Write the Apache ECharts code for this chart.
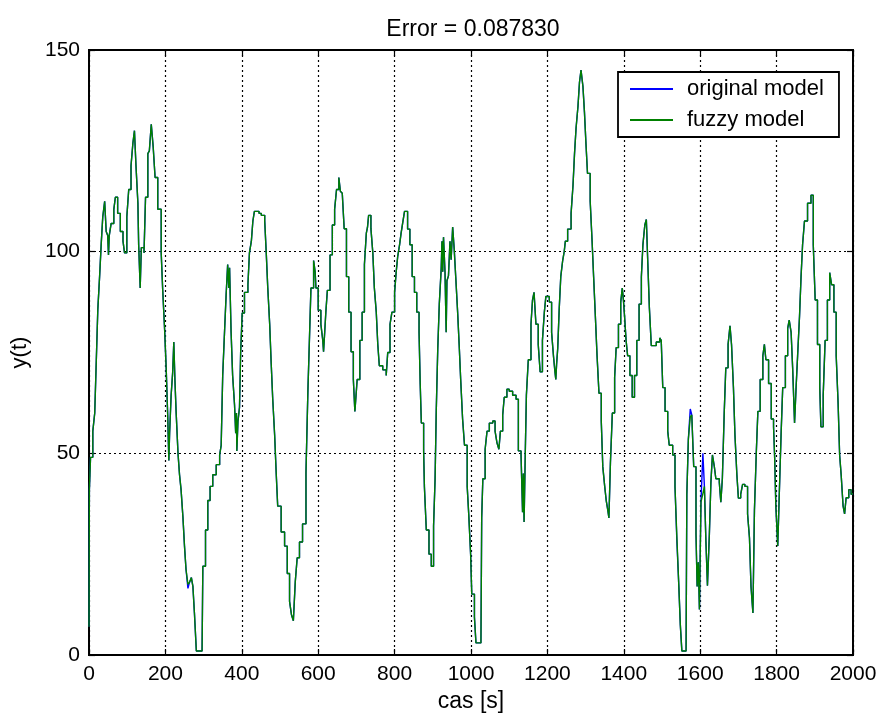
<!DOCTYPE html>
<html>
<head>
<meta charset="utf-8">
<script src="https://cdn.jsdelivr.net/npm/echarts@6/dist/echarts.min.js"></script>
<style>html,body{margin:0;padding:0;background:#fff}#c{width:880px;height:715px}</style>
</head>
<body>
<div id="c"></div>
<script>
var titleText = 'Error = 0.087830';
var seriesNames = ['original model', 'fuzzy model'];
var xTicks = [0, 200, 400, 600, 800, 1000, 1200, 1400, 1600, 1800, 2000];
var yTicks = [0, 50, 100, 150];

var times = [0,1,4,10,15,19,23,28,32,36,41,45,49,51,53,58,65,69,75,82,89,93,99,104,110,115,119,123,128,130,134,137,144,148,154,158,163,168,173,180,189,193,198,202,206,209,211,215,219,222,225,228,233,237,241,
246,250,254,259,263,268,272,276,281,296,298,305,311,317,324,333,342,346,350,355,359,363,366,368,372,376,381,384,386,387,390,394,397,401,407,416,420,425,429,433,445,451,460,464,468,473,477,481,486,490,494,503,512,519,525,530,535,540,545,551,559,568,573,577,581,588,592,594,600,607,612,614,617,620,624,631,637,643,648,654,658,663,668,674,680,686,692,696,698,702,709,715,721,726,729,732,738,743,747,752,756,760,769,778,782,788,793,800,804,808,813,817,821,826,834,840,846,852,858,864,867,870,876,878,883,890,896,902,906,909,913,917,922,924,926,928,932,935,937,941,945,948,952,956,960,965,969,973,978,983,990,994,999,1002,1009,1013,1026,1028,
1031,1037,1042,1048,1057,1063,1068,1073,1077,1083,1087,1094,1100,1109,1118,1124,1131,1135,1137,1139,1142,1145,1150,1157,1161,1165,1170,1176,1181,1187,1192,1196,1205,1211,1216,1220,1222,1224,1227,1231,1235,1240,1244,1247,1253,1262,1267,1271,1275,1280,1284,1288,1293,1297,1301,1305,1312,1317,1321,1326,1330,1335,1341,1345,1350,1354,1358,1361,1365,1370,1376,1380,1386,1392,1396,1399,1402,1406,1410,1416,1422,1428,1434,1440,1446,1450,1455,1459,1463,1467,1472,1485,1494,1498,1502,1508,1515,1519,1528,1534,1539,1544,1548,1552,1563,1565,1569,1574,1578,1583,1589,1592,1595,1598,1602,1607,1611,1615,1619,1624,1628,1632,1637,1641,1650,1654,1658,1663,1667,1673,1678,1682,1687,1691,1696,1700,1706,1711,1717,1724,1729,1733,1738,1742,1747,1751,1757,1764,1768,1772,1779,1786,1792,1795,1798,1803,1807,1812,1816,1823,1829,1833,1838,1842,1847,1851,1855,1860,1864,1868,1873,1881,1890,1896,1901,1907,1913,1916,1922,1927,1933,1939,1944,1950,1956,1961,1965,1969,1974,1978,1982,1989,1995,2000];

var original = [7,41,49,55.5,60,72.7,85.5,94.3,102,108.6,112.5,105,104,99.2,104,107,110.5,113.5,109.5,105,102.6,99.7,108.6,115.4,121.3,127,130,121.3,112,101.7,91,101,99.7,113.5,124.3,125,131.6,126,118.4,110.5,99.7,90.4,80.6,71.2,59.5,48.2,55,64.4,70,77.6,68,60.4,50,44.7,41,
34,27,21.2,16.5,18,19.2,17,10.4,1,1,22,31,38.3,41.8,44.7,47.2,49.6,52,69.3,80.6,89.4,96.8,91,96,80,69.3,62,55,60,50.6,58,61.4,75,84.8,89.9,91.8,99.7,102.6,107.6,110,109.5,109,107.6,99.7,91,82,72.2,63.4,54.5,45.2,36.9,30.5,27,20.2,13.3,10,8.5,18.2,24.1,28,32.5,45.2,65.4,78.1,91,97.8,95,91,85.5,82,78,75.2,80,85,90.4,99.2,106.6,110.5,115.4,118.4,115,114.5,105.7,93.8,85,75.2,68.3,60.4,63,68.3,78,85,96.8,104.6,106,109,105.7,99.7,91,85,77,71.7,70.7,69.3,75,82,85,89.9,94.8,98.7,101.7,104.6,107,110,105.6,101.7,93.8,89.9,85,80,67.3,57.5,50.6,41.8,31,25,22,32,43.7,60.4,76,87,95.8,102.6,95,103.6,94.8,80,92.8,94,102.6,98,106.1,100.7,93.8,85,77,68.3,58.5,52,41.8,35,25,15.1,9.4,3,3,34,
43.7,51,55.5,57.5,58,55.5,52.6,51,55.5,59.5,63.9,65.9,65.4,64.4,63.4,50.6,49.6,35.4,45,33,49.6,64.4,73.2,82,88,89.9,82,77,70.2,78,85,88.9,87.5,80,74,70,68.3,72,76,86,93.8,97.8,100,102.6,105.6,109.5,116.4,124.3,130.6,136,142,145,141,134.6,126.7,119.4,112.5,102.6,93.8,83,74.2,64.9,58,46.7,41.8,38.3,36,34,47.7,60,68.8,76.2,82,87.5,91,88,84,78,74.2,69.3,63.9,69.3,78,87,93.8,101.7,106.6,108,96.8,86,76.7,77.6,78.6,78,66.3,60.4,55.5,52,49.6,41.8,28,17.2,7.4,1,1,39.8,53.5,61,59.5,46.7,30,17,23,11.3,37.9,50,41.8,28,17.2,30,42.8,49.6,46.7,43.7,42.8,37.9,43.7,60.4,71.2,77,81.6,77,66.3,54.5,44.7,38.9,39.8,42.3,41.8,35,29,17,10.4,35.9,50.6,60.4,68.3,74.2,77,73.2,67.3,58.5,56.6,48.7,37,27,39.8,55.5,66.3,74.2,81,83,80,71.2,57.5,66.3,74.2,84,93.8,101.7,107.6,112,114,101.7,88,77,66.3,56.6,64.4,78,88,94.8,91.8,85,74.2,62.4,49.6,44.7,37,35,39,41,39.8,40];

var fuzzy = [7,41,49,55.5,60,72.7,85.5,94.3,102,108.6,112.5,105,104,99.2,104,107,110.5,113.5,109.5,105,102.6,99.7,108.6,115.4,121.3,127,130,121.3,112,101.7,91,101,99.7,113.5,124.3,125,131.6,126,118.4,110.5,99.7,90.4,80.6,71.2,59.5,48.2,55,64.4,70,77.6,68,60.4,50,44.7,41,
34,27,21.2,17.5,18,19.2,17,10.4,1,1,22,31,38.3,41.8,44.7,47.2,49.6,52,69.3,80.6,89.4,96.8,91,96,80,69.3,62,55,60,50.6,58,61.4,75,84.8,89.9,91.8,99.7,102.6,107.6,110,109.5,109,107.6,99.7,91,82,72.2,63.4,54.5,45.2,36.9,30.5,27,20.2,13.3,10,8.5,18.2,24.1,28,32.5,45.2,65.4,78.1,91,97.8,95,91,85.5,82,78,75.2,80,85,90.4,99.2,106.6,110.5,115.4,118.4,115,114.5,105.7,93.8,85,75.2,68.3,60.4,63,68.3,78,85,96.8,104.6,106,109,105.7,99.7,91,85,77,71.7,70.7,69.3,75,82,85,89.9,94.8,98.7,101.7,104.6,107,110,105.6,101.7,93.8,89.9,85,80,67.3,57.5,50.6,41.8,31,25,22,32,43.7,60.4,76,87,95.8,102.6,95,103.6,94.8,80,92.8,94,102.6,98,106.1,100.7,93.8,85,77,68.3,58.5,52,41.8,35,25,15.1,9.4,3,3,34,
43.7,51,55.5,57.5,58,55.5,52.6,51,55.5,59.5,63.9,65.9,65.4,64.4,63.4,50.6,49.6,35.4,45,33,49.6,64.4,73.2,82,88,89.9,82,77,70.2,78,85,88.9,87.5,80,74,70,68.3,72,76,86,93.8,97.8,100,102.6,105.6,109.5,116.4,124.3,130.6,136,142,145,141,134.6,126.7,119.4,112.5,102.6,93.8,83,74.2,64.9,58,46.7,41.8,38.3,36,34,47.7,60,68.8,76.2,82,87.5,91,88,84,78,74.2,69.3,63.9,69.3,78,87,93.8,101.7,106.6,108,96.8,86,76.7,77.6,78.6,78,66.3,60.4,55.5,52,49.6,41.8,29,17.2,7.4,1,1,39.8,53.5,59,59.5,46.7,30,17,23,11.3,37.9,40,41.8,28,17.2,30,42.8,49.6,46.7,43.7,42.8,37.9,43.7,60.4,71.2,77,81.6,77,66.3,54.5,44.7,38.9,39.8,42.3,41.8,35,29,17,10.4,35.9,50.6,60.4,68.3,74.2,77,73.2,67.3,58.5,56.6,48.7,37,27,39.8,55.5,66.3,74.2,81,83,80,71.2,57.5,66.3,74.2,84,93.8,101.7,107.6,112,114,101.7,88,77,66.3,56.6,64.4,78,88,94.8,91.8,85,74.2,62.4,49.6,44.7,37,35,39,41,39.8,40];

function pairs(vals) { return times.map(function (t, i) { return [t, vals[i]]; }); }

var font = "'Liberation Sans', Arial, sans-serif";
var chart = echarts.init(document.getElementById('c'), null, { renderer: 'canvas' });
var dotted = { color: '#000', width: 1.2, type: [2, 3] };
var frameAxis = { show: true, onZero: false, lineStyle: { color: '#000', width: 1.8 } };
var tickIn = { show: true, inside: true, length: 6, lineStyle: { color: '#000', width: 1.2 } };
chart.setOption({
  animation: false,
  backgroundColor: '#fff',
  textStyle: { fontFamily: font },
  title: {
    text: titleText, left: 468, top: 13, textAlign: 'center',
    textStyle: { fontFamily: font, fontSize: 23, fontWeight: 'normal', color: '#000' }
  },
  legend: {
    orient: 'vertical', left: 618, top: 72,
    padding: [6, 15, 6, 12],
    itemGap: 9, itemWidth: 43, itemHeight: 2,
    icon: 'rect',
    backgroundColor: '#fff', borderColor: '#000', borderWidth: 1.8,
    textStyle: { fontFamily: font, fontSize: 22, color: '#000', padding: [0, 0, 0, 9] },
    data: seriesNames
  },
  grid: { left: 89, right: 27, top: 50, bottom: 60, show: true, borderColor: '#000', borderWidth: 1.8,
    containLabel: false, outerBoundsMode: 'none' },
  xAxis: [{
    type: 'value', min: 0, max: 2000, interval: 200,
    name: 'cas [s]', nameLocation: 'middle', nameGap: 25,
    nameTextStyle: { fontFamily: font, fontSize: 23, color: '#000' },
    axisLine: frameAxis, axisTick: tickIn,
    axisLabel: { fontFamily: font, fontSize: 21, color: '#000', margin: 9,
      formatter: function (v) { return xTicks.indexOf(v) >= 0 ? String(v) : ''; } },
    splitLine: { show: true, lineStyle: dotted }
  }, {
    type: 'value', min: 0, max: 2000, interval: 200, position: 'top',
    axisLine: frameAxis, axisTick: tickIn,
    axisLabel: { show: false }, splitLine: { show: false }
  }],
  yAxis: [{
    type: 'value', min: 0, max: 150, interval: 50,
    name: 'y(t)', nameLocation: 'middle', nameGap: 58,
    nameTextStyle: { fontFamily: font, fontSize: 22, color: '#000' },
    axisLine: frameAxis, axisTick: tickIn,
    axisLabel: { fontFamily: font, fontSize: 21, color: '#000', margin: 9,
      formatter: function (v) { return yTicks.indexOf(v) >= 0 ? String(v) : ''; } },
    splitLine: { show: true, lineStyle: dotted }
  }, {
    type: 'value', min: 0, max: 150, interval: 50, position: 'right',
    axisLine: frameAxis, axisTick: tickIn,
    axisLabel: { show: false }, splitLine: { show: false }
  }],
  series: [{
    name: seriesNames[0], type: 'line', step: 'end', symbol: 'none',
    data: pairs(original),
    lineStyle: { color: '#0000ff', width: 1.4 }, itemStyle: { color: '#0000ff' }, z: 2
  }, {
    name: seriesNames[1], type: 'line', step: 'end', symbol: 'none',
    data: pairs(fuzzy),
    lineStyle: { color: '#008000', width: 1.4 }, itemStyle: { color: '#008000' }, z: 3
  }]
});
</script>
</body>
</html>
